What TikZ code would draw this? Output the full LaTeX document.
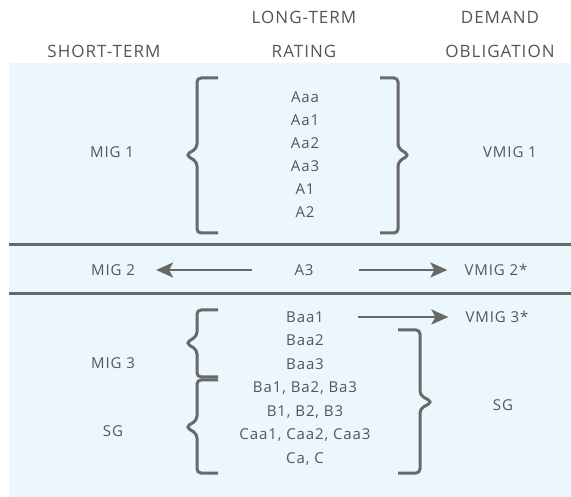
\documentclass[tikz,border=0pt]{standalone}
\usepackage{fontspec}
\setmainfont{Open Sans}[LetterSpace=6]
\usetikzlibrary{positioning, arrows.meta}
\definecolor{panelblue}{RGB}{236,247,253}
\definecolor{textgray}{RGB}{85,85,85}
\definecolor{rulegray}{RGB}{105,105,105}

\begin{document}
\begin{tikzpicture}[x=1pt, y=-1pt,
        colhead/.style={font=\fontsize{17}{19}\selectfont, text=textgray, inner sep=0pt, text height=12pt, text depth=0pt},
        entry/.style={font=\fontsize{15}{17}\selectfont, text=textgray, inner sep=0pt, text height=10.7pt, text depth=0pt},
        arrow/.style={line width=2.5pt, draw=rulegray, -{Stealth[length=17pt, width=15pt, inset=4pt]}},
        sepline/.style={line width=3pt, draw=rulegray},
        bracket/.style={line width=3pt, draw=rulegray, rounded corners=4pt}
    ]
    \useasboundingbox (0,0) rectangle (571,497);
    \fill[panelblue] (9,63) rectangle (571,497);

    % column heads
    \node[colhead] (shortterm) at (104,52) {SHORT-TERM};
    \node[colhead] (longterm) at (304,18) {LONG-TERM};
    \node[colhead] (rating) at (304,52) {RATING};
    \node[colhead] (demand) at (500,18) {DEMAND};
    \node[colhead] (obligation) at (500,52) {OBLIGATION};

    % upper group
    \foreach \txt [count=\i] in {Aaa, Aa1, Aa2, Aa3, A1, A2}
        \node[entry] (up\i) at (305,{97+23*(\i-1)}) {\txt};
    \node[entry] (mig1) at (112,152) {MIG 1};
    \node[entry] (vmig1) at (510,152) {VMIG 1};

    \draw[sepline] (9,245) -- (571,245);
    \draw[sepline] (9,294) -- (571,294);

    % middle row
    \node[entry] (a3) at (304,270) {A3};
    \node[entry] (mig2) at (113,270) {MIG 2};
    \node[entry] (vmig2) at (496,270) {VMIG 2*};
    \draw[arrow] ([xshift=-42pt]a3.west) -- ([xshift=21pt]mig2.east);
    \draw[arrow] ([xshift=45pt]a3.east) -- ([xshift=-17pt]vmig2.west);

    % lower group
    \foreach \txt [count=\i] in {Baa1, Baa2, Baa3, {Ba1, Ba2, Ba3}, {B1, B2, B3}, {Caa1, Caa2, Caa3}, {Ca, C}}
        \node[entry] (low\i) at (305,{317+23.5*(\i-1)}) {\txt};
    \node[entry] (mig3) at (113,363) {MIG 3};
    \node[entry] (sgleft) at (113,431) {SG};
    \node[entry] (sgright) at (503,405) {SG};
    \node[entry] (vmig3) at (497,317) {VMIG 3*};
    \draw[arrow] ([xshift=34pt]low1.east) -- ([xshift=-17pt]vmig3.west);

    % braces
    \foreach \top/\tip/\bot in {78/155/233, 310/343/377, 380/427/473}
        \draw[bracket] (218,\top) -- (197,\top) -- (197,\tip-7) -- (186,\tip) -- (197,\tip+7) -- (197,\bot) -- (218,\bot);
    \draw[bracket] (380,78) -- (398,78) -- (398,148) -- (409,155) -- (398,162) -- (398,233) -- (380,233);
    \draw[bracket] (398,330) -- (420,330) -- (420,395) -- (432,402) -- (420,409) -- (420,473) -- (398,473);
\end{tikzpicture}
\end{document}
